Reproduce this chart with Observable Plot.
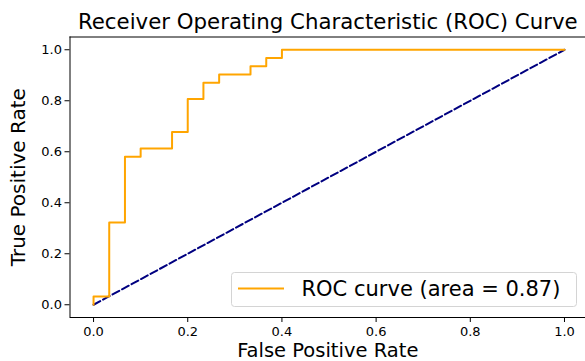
<!DOCTYPE html>
<html>
<head>
<meta charset="utf-8">
<script src="https://cdn.jsdelivr.net/npm/d3@7"></script>
<script src="https://cdn.jsdelivr.net/npm/@observablehq/plot@0.6"></script>
<style>
  html, body { margin: 0; padding: 0; background: #fff; }
  #chart { width: 585px; height: 361px; position: relative; }
  svg { font-family: "DejaVu Sans", sans-serif; }
</style>
</head>
<body>
<div id="chart"></div>
<script>
// ROC curve vertices (false positive rate, true positive rate)
const fpr = [0.0, 0.0, 0.0333, 0.0333, 0.0667, 0.0667, 0.1, 0.1, 0.1667, 0.1667, 0.2, 0.2, 0.2333, 0.2333, 0.2667, 0.2667, 0.3333, 0.3333, 0.3667, 0.3667, 0.4, 0.4, 1.0];
const tpr = [0.0, 0.0323, 0.0323, 0.3226, 0.3226, 0.5806, 0.5806, 0.6129, 0.6129, 0.6774, 0.6774, 0.8065, 0.8065, 0.871, 0.871, 0.9032, 0.9032, 0.9355, 0.9355, 0.9677, 0.9677, 1.0, 1.0];
// chance diagonal
const diagX = [0, 1];
const diagY = [0, 1];
const ticks = [0, 0.2, 0.4, 0.6, 0.8, 1.0];
const tickLabels = ["0.0", "0.2", "0.4", "0.6", "0.8", "1.0"];
const rocAuc = 0.87;
const titleText = "Receiver Operating Characteristic (ROC) Curve";
const xLabel = "False Positive Rate";
const yLabel = "True Positive Rate";
const legendLabel = `ROC curve (area = ${rocAuc.toFixed(2)})`;

const roc = fpr.map((x, i) => ({x, y: tpr[i]}));
const diag = diagX.map((x, i) => ({x, y: diagY[i]}));
const fmt = d => tickLabels[ticks.indexOf(d)] ?? d3.format(".1f")(d);

const W = 585, H = 361;
const plot = Plot.plot({
  width: W,
  height: H,
  marginLeft: 69.5,
  marginRight: 0,
  marginTop: 36.5,
  marginBottom: 44,
  style: {fontFamily: "DejaVu Sans, sans-serif", background: "#fff", color: "#000", overflow: "visible"},
  x: {domain: [-0.05, 1.0446]},
  y: {domain: [-0.05, 1.05]},
  marks: [
    Plot.axisX({ticks, tickFormat: fmt, tickSize: 5, tickPadding: 4, fontSize: 13, label: null, stroke: "#000"}),
    Plot.axisY({ticks, tickFormat: fmt, tickSize: 5, tickPadding: 3, fontSize: 13, label: null, stroke: "#000"}),
    Plot.ruleX([-0.05], {stroke: "#000", strokeWidth: 1}),
    Plot.ruleY([-0.05, 1.05], {stroke: "#000", strokeWidth: 1}),
    Plot.line(diag, {x: "x", y: "y", stroke: "navy", strokeWidth: 2, strokeDasharray: "7.6,3.2"}),
    Plot.line(roc, {x: "x", y: "y", stroke: "orange", strokeWidth: 2, curve: "linear"}),
    Plot.text([titleText], {frameAnchor: "top", dx: 0, dy: -8, lineAnchor: "bottom", textAnchor: "middle", fontSize: 21.3, fill: "#000"}),
    Plot.text([xLabel], {frameAnchor: "bottom", dy: 39.5, lineAnchor: "bottom", textAnchor: "middle", fontSize: 19.5, fill: "#000"}),
    Plot.text([yLabel], {frameAnchor: "left", dx: -45, rotate: -90, lineAnchor: "bottom", textAnchor: "middle", fontSize: 20, fill: "#000"})
  ]
});
document.getElementById("chart").appendChild(plot);

// legend box (lower right, matplotlib style)
const svg = d3.select(plot);
const lg = svg.append("g").attr("class", "legend");
lg.append("rect")
  .attr("x", 231.5).attr("y", 272.5).attr("width", 345).attr("height", 34)
  .attr("rx", 3).attr("ry", 3)
  .attr("fill", "#fff").attr("fill-opacity", 0.8)
  .attr("stroke", "#d4d4d4").attr("stroke-width", 1);
lg.append("line")
  .attr("x1", 238).attr("x2", 284).attr("y1", 288.5).attr("y2", 288.5)
  .attr("stroke", "orange").attr("stroke-width", 2);
lg.append("text")
  .attr("x", 301.5).attr("y", 296)
  .attr("text-anchor", "start")
  .attr("font-size", 21).attr("fill", "#000")
  .text(legendLabel);
</script>
</body>
</html>
